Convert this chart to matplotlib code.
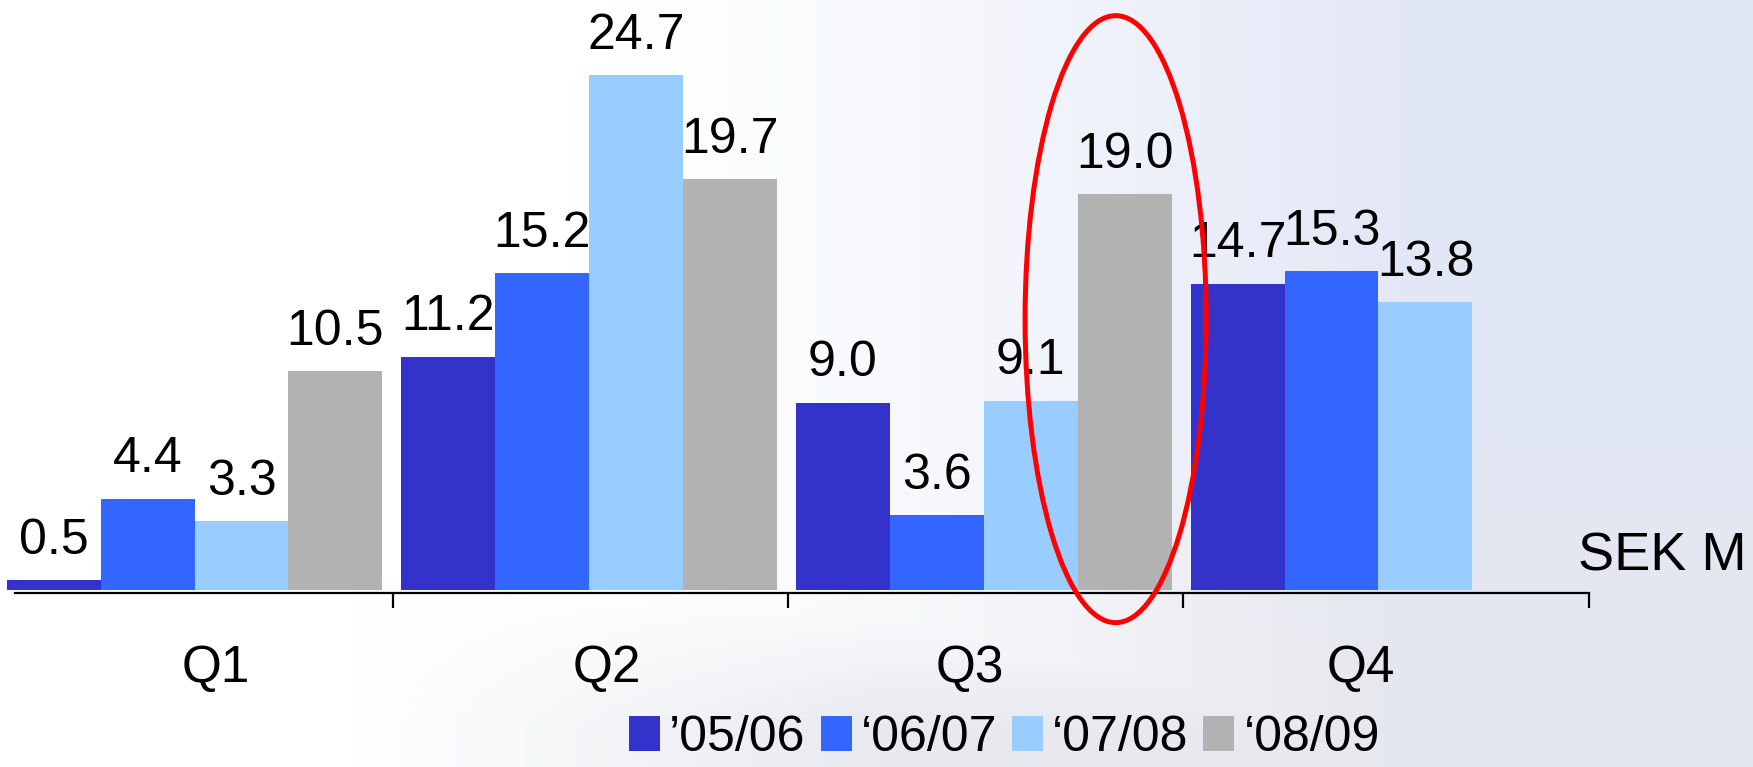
import numpy as np
import matplotlib.pyplot as plt
from matplotlib.patches import Ellipse, Patch

plt.rcParams['font.family'] = ['Liberation Sans Narrow', 'Liberation Sans', 'DejaVu Sans']

quarters = ["Q1", "Q2", "Q3", "Q4"]
seasons = ["\u201905/06", "\u201806/07", "\u201807/08", "\u201808/09"]
colors = ["#3333CC", "#3366FF", "#99CCFF", "#B2B2B2"]

# SEK M per quarter, one list per season (no Q4 figure yet for '08/09)
s0506 = [0.5, 11.2, 9.0, 14.7]
s0607 = [4.4, 15.2, 3.6, 15.3]
s0708 = [3.3, 24.7, 9.1, 13.8]
s0809 = [10.5, 19.7, 19.0, None]
series = [s0506, s0607, s0708, s0809]

fig = plt.figure(figsize=(17.53, 7.67), dpi=100)

# soft bluish backdrop, white on the left, greyer towards the bottom
bg = fig.add_axes([0, 0, 1, 1], zorder=-5)
xx, yy = np.meshgrid(np.linspace(0, 1, 400), np.linspace(0, 1, 200))
t = np.clip((xx - 0.35) / 0.45, 0, 1) ** 1.3 * 0.85
t = np.maximum(t, np.clip((0.25 - yy) / 0.2, 0, 1) * np.clip((xx - 0.2) / 0.3, 0, 1) * 0.75)
white = np.array([1.0, 1.0, 1.0])
lav = np.array([0.87, 0.89, 0.96])
grey = np.array([0.88, 0.89, 0.92])
mix = np.clip((0.45 - yy) / 0.3, 0, 1)[..., None]
tint = lav * (1 - mix) + grey * mix
img = white * (1 - t[..., None]) + tint * t[..., None]
bg.imshow(img, origin="lower", aspect="auto", extent=[0, 1, 0, 1])
bg.axis("off")

ax = fig.add_axes([0, 0, 1, 1])
ax.patch.set_alpha(0)
ax.set_xlim(0.003, 4.445)
ax.set_ylim(-8.47, 28.3)

bw = 0.238
x0 = np.arange(len(quarters)) + 0.02
for i, (vals, c) in enumerate(zip(series, colors)):
    for k, v in enumerate(vals):
        if v is None:
            continue
        xc = x0[k] + bw * (i + 0.5)
        ax.bar(xc, v, width=bw, color=c, zorder=2)
        ax.annotate(f"{v:.1f}", (xc, v), xytext=(0, 19), textcoords="offset points",
                    ha="center", va="baseline", fontsize=36, zorder=3)

# axis line with group separators
for s in ["top", "right", "left"]:
    ax.spines[s].set_visible(False)
ax.spines["bottom"].set_position(("data", -0.12))
ax.spines["bottom"].set_bounds(0.04, 4.03)
ax.spines["bottom"].set_linewidth(1.6)
ax.set_xticks([1, 2, 3, 4.03])
ax.set_xticklabels([])
ax.tick_params(axis="x", which="major", direction="out", length=11, width=1.6)
ax.set_xticks([0.55, 1.54, 2.46, 3.45], minor=True)
ax.set_xticklabels(quarters, minor=True, fontsize=37)
ax.tick_params(axis="x", which="minor", length=0, pad=37)
ax.set_yticks([])

ax.text(4.43, 1.6, "SEK M", ha="right", va="center", fontsize=39)

ax.add_patch(Ellipse((2.83, 13.0), 0.459, 29.1, fill=False, edgecolor="#FF0000",
                     linewidth=3.6, zorder=5))

handles = [Patch(facecolor=c, edgecolor="none") for c in colors]
fig.legend(handles, seasons, loc="center", bbox_to_anchor=(0.573, 0.038), ncol=4,
           frameon=False, fontsize=36, handlelength=0.62, handleheight=0.72,
           handletextpad=0.18, columnspacing=0.3, borderpad=0)

fig.savefig("out.png", dpi=100)
